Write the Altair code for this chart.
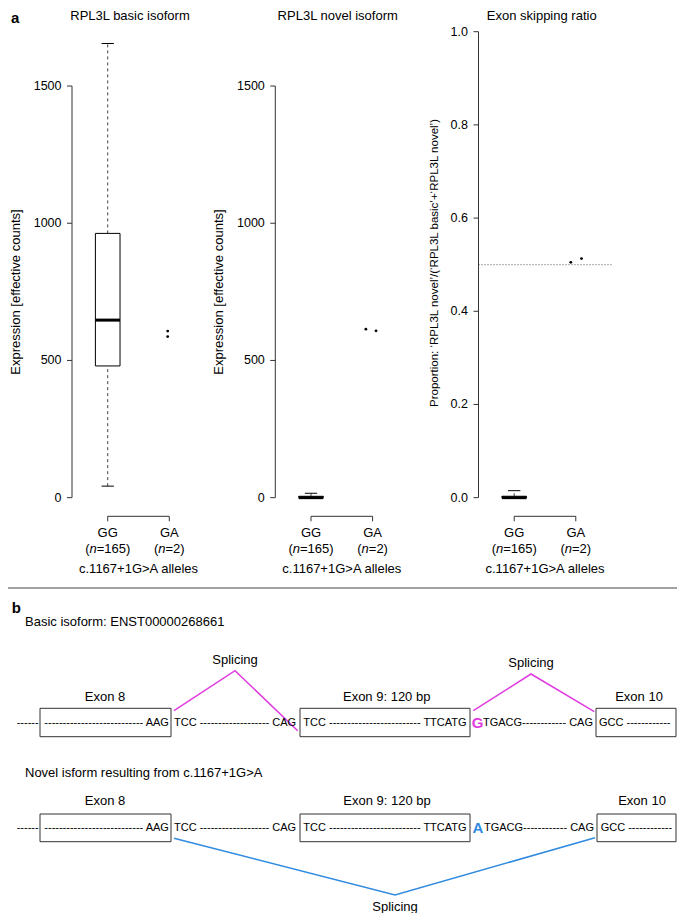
import altair as alt
import pandas as pd

# ------------------------------------------------------------------ panel a data
groups = ["GG", "GA"]
group_pos = [1, 2]
group_n = ["165", "2"]
x_title = "c.1167+1G>A alleles"

panel_titles = ["RPL3L basic isoform", "RPL3L novel isoform", "Exon skipping ratio"]
panel_ytitles = [
    "Expression [effective counts]",
    "Expression [effective counts]",
    "Proportion: \u2018RPL3L novel\u2019/(\u2018RPL3L basic\u2019+\u2018RPL3L novel\u2019)",
]
y_limits = [[0, 1698], [0, 1698], [0, 1]]
y_ticks = [[0, 500, 1000, 1500], [0, 500, 1000, 1500], [0, 0.2, 0.4, 0.6, 0.8, 1.0]]
y_tick_labels = [["0", "500", "1000", "1500"], ["0", "500", "1000", "1500"],
                 ["0.0", "0.2", "0.4", "0.6", "0.8", "1.0"]]

# GG (n=165) box statistics per panel
gg_low = [42, 0, 0]
gg_q1 = [480, 0, 0]
gg_median = [647, 0, 0]
gg_q3 = [963, 5, 0.003]
gg_high = [1655, 16, 0.015]

# GA (n=2) individual samples (x jittered around group 2)
ga_x = [[1.974, 1.974], [1.891, 2.056], [1.919, 2.093]]
ga_y = [[607, 587], [614, 608], [0.505, 0.513]]
ratio_reference = 0.5

# ------------------------------------------------------------------ panel b schematic (schematic units)
exon_labels = ["Exon 8", "Exon 9: 120 bp", "Exon 10", "Exon 8", "Exon 9: 120 bp", "Exon 10"]
exon_x1 = [40, 300, 596, 40, 300, 597]
exon_x2 = [171, 470, 676, 171, 470, 676]
exon_y1 = [708.3, 708.3, 708.3, 814, 814, 814]
exon_y2 = [736.7, 736.7, 736.7, 841.7, 841.7, 841.7]
exon_label_x = [105, 386.7, 639, 105, 387, 642]
exon_label_y = [696.7, 696.7, 696.7, 800.7, 800.7, 800.7]

seq_text = ["-" * 6, "-" * 27 + " AAG", "TCC " + "-" * 19 + " CAG",
            "TCC " + "-" * 25 + " TTCATG", "TGACG" + "-" * 12 + " CAG", "GCC " + "-" * 12]
seq_x_row1 = [16.7, 44.3, 174, 303.3, 483, 599]
seq_x_row2 = [16.7, 44.3, 174, 303.3, 484, 600.7]
seq_y = [723.3, 828.3]

variant_letter = ["G", "A"]
variant_x = [477.5, 478]
variant_y = [723, 827.5]

splice_id = ["basic1"] * 3 + ["basic2"] * 3 + ["novel"] * 3
splice_order = [0, 1, 2] * 3
splice_x = [174, 235, 297.7, 473.3, 531, 594.3, 174, 395, 595]
splice_y = [710.7, 670.7, 730.7, 710.7, 674, 711.7, 838.3, 895, 837.7]
splice_label_x = [235, 531, 395]
splice_label_y = [660, 662.7, 906.5]

isoform_titles = ["Basic isoform: ENST00000268661", "Novel isform resulting from c.1167+1G>A"]
isoform_title_x = [25, 25]
isoform_title_y = [621.7, 773]

panel_letters = ["a", "b"]
panel_letter_x = [11, 11.7]
panel_letter_y = [23, 612.5]
panel_title_x = [130, 337.7, 541.7]
panel_title_y = [15.5, 15.5, 15.5]
ytitle_x = [15.5, 218.7, 435]
ytitle_y = [292, 292, 263]
ytitle_size = [13, 13, 11.5]
separator_x = [8, 677]
separator_y = 588

# ------------------------------------------------------------------ layout / style
W, H = 669, 905
PANEL_LEFT = [64.0, 267.3, 470.5]
PANEL_W = 133.0
FRAME_TOP, FRAME_BOTTOM = 5.06, 508.3
X_USR = (0.42, 2.58)
BOX_HALF, CAP_HALF = 0.2, 0.1
FONT = "Liberation Sans"
INK = "#000000"
AXIS = "#333333"
WHISKER = "#444444"
PINK = "#e03ce0"
BLUE = "#2f8be0"
EM = {"(": 0.333, ")": 0.333, "n": 0.556, "=": 0.584, "0": 0.556, "1": 0.556, "2": 0.556,
      "5": 0.556, "6": 0.556}


def frame_domain(lo, hi, p_lo, p_hi, size, flip=False):
    if flip:
        p_lo, p_hi = size - p_lo, size - p_hi
    span = (hi - lo) * size / (p_hi - p_lo)
    d0 = lo - p_lo / size * span
    return [d0, d0 + span]


def text_w(s, fs):
    return sum(EM[c] for c in s) * fs


def panel(i):
    left = PANEL_LEFT[i]
    xdom = frame_domain(X_USR[0], X_USR[1], left, left + PANEL_W, W)
    lo, hi = y_limits[i]
    ext = 0.04 * (hi - lo)
    ylo, yhi = lo - ext, hi + ext
    ydom = frame_domain(ylo, yhi, FRAME_BOTTOM, FRAME_TOP, H, flip=True)
    xs = alt.Scale(domain=xdom, nice=False, zero=False)
    ys = alt.Scale(domain=ydom, nice=False, zero=False)

    def X(f):
        return alt.X(f, type="quantitative", scale=xs, axis=None)

    def Y(f):
        return alt.Y(f, type="quantitative", scale=ys, axis=None)

    g = group_pos[0]
    st = pd.DataFrame({"g": [g], "bl": [g - BOX_HALF], "br": [g + BOX_HALF],
                       "cl": [g - CAP_HALF], "cr": [g + CAP_HALF],
                       "lo": [gg_low[i]], "q1": [gg_q1[i]], "med": [gg_median[i]],
                       "q3": [gg_q3[i]], "hi": [gg_high[i]]})
    L = []
    L.append(alt.Chart(st).mark_rule(color=WHISKER, strokeDash=[3, 3], strokeWidth=1)
             .encode(x=X("g"), y=Y("q3"), y2="hi"))
    L.append(alt.Chart(st).mark_rule(color=WHISKER, strokeDash=[3, 3], strokeWidth=1)
             .encode(x=X("g"), y=Y("lo"), y2="q1"))
    L.append(alt.Chart(st).mark_rule(color=INK, strokeWidth=1)
             .encode(x=X("cl"), x2="cr", y=Y("hi")))
    L.append(alt.Chart(st).mark_rule(color=INK, strokeWidth=1)
             .encode(x=X("cl"), x2="cr", y=Y("lo")))
    L.append(alt.Chart(st).mark_rect(fill="white", stroke=INK, strokeWidth=1)
             .encode(x=X("bl"), x2="br", y=Y("q1"), y2="q3"))
    L.append(alt.Chart(st).mark_rule(color=INK, strokeWidth=3)
             .encode(x=X("bl"), x2="br", y=Y("med")))

    pts = pd.DataFrame({"x": ga_x[i], "y": ga_y[i]})
    L.append(alt.Chart(pts).mark_circle(size=8, color=INK, opacity=1)
             .encode(x=X("x"), y=Y("y")))

    if i == 2:
        ref = pd.DataFrame({"a": [X_USR[0]], "b": [X_USR[1]], "y": [ratio_reference]})
        L.append(alt.Chart(ref).mark_rule(color="#555555", strokeDash=[1, 2], strokeWidth=1)
                 .encode(x=X("a"), x2="b", y=Y("y")))

    # y axis
    ax = pd.DataFrame({"x": [X_USR[0]], "a": [y_ticks[i][0]], "b": [y_ticks[i][-1]]})
    L.append(alt.Chart(ax).mark_rule(color=AXIS, strokeWidth=1)
             .encode(x=X("x"), y=Y("a"), y2="b"))
    tk = pd.DataFrame({"x": [X_USR[0]] * len(y_ticks[i]), "v": y_ticks[i], "t": y_tick_labels[i]})
    L.append(alt.Chart(tk).mark_rule(color=AXIS, strokeWidth=1, x2Offset=-5)
             .encode(x=X("x"), x2="x", y=Y("v")))
    L.append(alt.Chart(tk).mark_text(align="right", baseline="middle", dx=-10.5, fontSize=12.5,
                                     font=FONT, color=INK)
             .encode(x=X("x"), y=Y("v"), text="t:N"))

    # x "bracket" axis
    br = pd.DataFrame({"a": [group_pos[0]], "b": [group_pos[1]], "y": [ylo]})
    L.append(alt.Chart(br).mark_rule(color=AXIS, strokeWidth=1)
             .encode(x=X("a"), x2="b", y=Y("y")))
    gl = pd.DataFrame({"g": group_pos, "y": [ylo, ylo], "name": groups})
    L.append(alt.Chart(gl).mark_rule(color=AXIS, strokeWidth=1, y2Offset=5)
             .encode(x=X("g"), y=Y("y"), y2="y"))
    L.append(alt.Chart(gl).mark_text(align="center", baseline="middle", dy=16.7, fontSize=13,
                                     font=FONT, color=INK)
             .encode(x=X("g"), y=Y("y"), text="name:N"))
    # (n=...) labels with italic n
    for gp, n in zip(group_pos, group_n):
        fs = 13
        pieces = ["(", "n", "=" + n + ")"]
        total = sum(text_w(p, fs) for p in pieces)
        off = -total / 2
        one = pd.DataFrame({"g": [gp], "y": [ylo]})
        for p in pieces:
            L.append(alt.Chart(one).mark_text(align="left", baseline="middle", dy=32.7, dx=off,
                                              fontSize=fs, font=FONT, color=INK,
                                              fontStyle="italic" if p == "n" else "normal")
                     .encode(x=X("g"), y=Y("y"), text=alt.value(p)))
            off += text_w(p, fs)
    xt = pd.DataFrame({"g": [sum(group_pos) / 2], "y": [ylo], "t": [x_title]})
    L.append(alt.Chart(xt).mark_text(align="center", baseline="middle", dy=52.7, fontSize=13,
                                     font=FONT, color=INK)
             .encode(x=X("g"), y=Y("y"), text="t:N"))
    return alt.layer(*L)


def figure_layer():
    FX = alt.Scale(domain=[8, 8 + W], nice=False, zero=False)
    FY = alt.Scale(domain=[8, 8 + H], nice=False, zero=False, reverse=True)

    def fx(f):
        return alt.X(f, type="quantitative", scale=FX, axis=None)

    def fy(f):
        return alt.Y(f, type="quantitative", scale=FY, axis=None)

    L = []
    sep = pd.DataFrame({"a": [separator_x[0]], "b": [separator_x[1]], "y": [separator_y]})
    L.append(alt.Chart(sep).mark_rule(color="#444444", strokeWidth=1)
             .encode(x=fx("a"), x2="b", y=fy("y")))
    ex = pd.DataFrame({"x1": exon_x1, "x2": exon_x2, "y1": exon_y1, "y2": exon_y2})
    L.append(alt.Chart(ex).mark_rect(fill="white", stroke="#333333", strokeWidth=1)
             .encode(x=fx("x1"), x2="x2", y=fy("y1"), y2="y2"))
    sp = pd.DataFrame({"id": splice_id, "o": splice_order, "x": splice_x, "y": splice_y})
    L.append(alt.Chart(sp).mark_line(strokeWidth=1.5)
             .encode(x=fx("x"), y=fy("y"), order="o:Q", detail="id:N",
                     color=alt.Color("id:N", scale=alt.Scale(domain=["basic1", "basic2", "novel"],
                                                             range=[PINK, PINK, BLUE]),
                                     legend=None)))
    # texts
    lt = pd.DataFrame({"x": panel_letter_x, "y": panel_letter_y, "t": panel_letters})
    L.append(alt.Chart(lt).mark_text(align="left", baseline="alphabetic", fontSize=15,
                                     fontWeight="bold", font=FONT, color=INK)
             .encode(x=fx("x"), y=fy("y"), text="t:N"))
    ct = pd.DataFrame({
        "x": panel_title_x + exon_label_x + splice_label_x,
        "y": panel_title_y + exon_label_y + splice_label_y,
        "t": panel_titles + exon_labels + ["Splicing"] * 3,
    })
    L.append(alt.Chart(ct).mark_text(align="center", baseline="middle", fontSize=13,
                                     font=FONT, color=INK)
             .encode(x=fx("x"), y=fy("y"), text="t:N"))
    yt = pd.DataFrame({"x": ytitle_x, "y": ytitle_y, "t": panel_ytitles, "fs": ytitle_size})
    L.append(alt.Chart(yt).mark_text(align="center", baseline="middle", angle=270,
                                     font=FONT, color=INK)
             .encode(x=fx("x"), y=fy("y"), text="t:N", size=alt.Size("fs:Q", scale=None)))
    it = pd.DataFrame({"x": isoform_title_x, "y": isoform_title_y, "t": isoform_titles})
    L.append(alt.Chart(it).mark_text(align="left", baseline="middle", fontSize=13,
                                     font=FONT, color=INK)
             .encode(x=fx("x"), y=fy("y"), text="t:N"))
    sq = pd.DataFrame({"x": seq_x_row1 + seq_x_row2,
                       "y": [seq_y[0]] * len(seq_text) + [seq_y[1]] * len(seq_text),
                       "t": seq_text + seq_text})
    L.append(alt.Chart(sq).mark_text(align="left", baseline="middle", fontSize=11,
                                     font=FONT, color=INK)
             .encode(x=fx("x"), y=fy("y"), text="t:N"))
    for k, col in enumerate([PINK, BLUE]):
        vd = pd.DataFrame({"x": [variant_x[k]], "y": [variant_y[k]], "t": [variant_letter[k]]})
        L.append(alt.Chart(vd).mark_text(align="center", baseline="middle", fontSize=15,
                                         fontWeight="bold", font=FONT, color=col)
                 .encode(x=fx("x"), y=fy("y"), text="t:N"))
    return alt.layer(*L)


chart = (
    alt.layer(panel(0), panel(1), panel(2), figure_layer())
    .resolve_scale(x="independent", y="independent")
    .properties(width=W, height=H, autosize=alt.AutoSizeParams(type="none"), padding=0)
    .configure_view(strokeWidth=0)
)

chart.save("out.html", embed_options={"renderer": "svg", "actions": False})
